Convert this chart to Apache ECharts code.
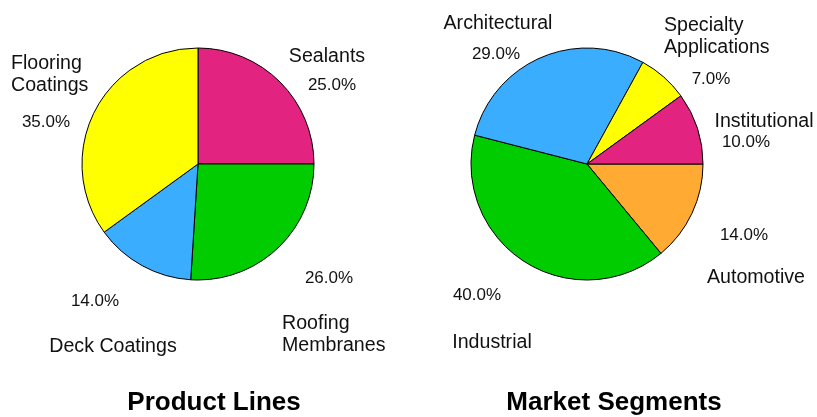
<!DOCTYPE html>
<html>
<head>
<meta charset="utf-8">
<script src="https://cdn.jsdelivr.net/npm/echarts@6/dist/echarts.min.js"></script>
<style>
  html, body { margin: 0; padding: 0; background: #fff; }
  #chart { width: 817px; height: 417px; }
</style>
</head>
<body>
<div id="chart"></div>
<script>
// Product lines (clockwise from 12 o'clock)
const productNames = ['Sealants', 'Roofing\nMembranes', 'Deck Coatings', 'Flooring\nCoatings'];
const productValues = [25, 26, 14, 35];
const productColors = ['#E2237F', '#00CC00', '#3AADFF', '#FFFF00'];

// Market segments (clockwise from 3 o'clock)
const marketNames = ['Automotive', 'Industrial', 'Architectural', 'Specialty\nApplications', 'Institutional'];
const marketValues = [14, 40, 29, 7, 10];
const marketColors = ['#FFAA33', '#00CC00', '#3AADFF', '#FFFF00', '#E2237F'];

const titles = ['Product Lines', 'Market Segments'];

// Label placement: [x, y, align]
const labelPlacement = {
  productPct:  [[332, 85, 'center'], [329, 278, 'center'], [95, 301, 'center'], [46, 122, 'center']],
  productName: [[327, 57, 'center'], [282, 335, 'left'], [113, 347, 'center'], [11, 75, 'left']],
  marketPct:   [[744, 235, 'center'], [477, 295, 'center'], [496, 54, 'center'], [711, 79, 'center'], [746, 142, 'center']],
  marketName:  [[756, 278, 'center'], [492, 343, 'center'], [498, 24, 'center'], [664, 37, 'left'], [764, 122, 'center']]
};

const FONT = '"Liberation Sans", Arial, Helvetica, sans-serif';

function toData(names, values, colors, fill) {
  return names.map((n, i) => ({
    name: n,
    value: values[i],
    itemStyle: { color: fill ? colors[i] : 'rgba(0,0,0,0)' }
  }));
}

function pieSeries(id, center, startAngle, names, values, colors, kind, placement) {
  const isPct = kind === 'pct';
  return {
    type: 'pie',
    id: id,
    center: center,
    radius: 116,
    startAngle: startAngle,
    clockwise: true,
    silent: !isPct,
    animation: false,
    z: isPct ? 2 : 3,
    itemStyle: {
      borderColor: isPct ? '#000' : 'rgba(0,0,0,0)',
      borderWidth: isPct ? 1 : 0
    },
    emphasis: { disabled: true },
    label: {
      show: true,
      position: 'outside',
      alignTo: 'none',
      overflow: 'none',
      color: '#111',
      fontFamily: FONT,
      fontSize: isPct ? 17 : 19.6,
      lineHeight: 22,
      formatter: isPct ? (p => p.percent.toFixed(1) + '%') : (p => p.name)
    },
    labelLine: { show: false },
    labelLayout: function (p) {
      const pos = placement[p.dataIndex];
      return { x: pos[0], y: pos[1], align: pos[2], verticalAlign: 'middle', hideOverlap: false, moveOverlap: null };
    },
    data: toData(names, values, colors, isPct)
  };
}

const chart = echarts.init(document.getElementById('chart'), null, { renderer: 'canvas' });
chart.setOption({
  backgroundColor: '#fff',
  animation: false,
  graphic: [
    { type: 'text', x: 214, y: 403, style: { text: titles[0], textAlign: 'center', textVerticalAlign: 'middle',
      font: 'bold 26px ' + FONT, fill: '#000' } },
    { type: 'text', x: 614, y: 403, style: { text: titles[1], textAlign: 'center', textVerticalAlign: 'middle',
      font: 'bold 26px ' + FONT, fill: '#000' } }
  ],
  series: [
    pieSeries('productSlices', [198, 164], 90, productNames, productValues, productColors, 'pct', labelPlacement.productPct),
    pieSeries('productNames', [198, 164], 90, productNames, productValues, productColors, 'name', labelPlacement.productName),
    pieSeries('marketSlices', [587, 164], 0, marketNames, marketValues, marketColors, 'pct', labelPlacement.marketPct),
    pieSeries('marketNames', [587, 164], 0, marketNames, marketValues, marketColors, 'name', labelPlacement.marketName)
  ]
});
</script>
</body>
</html>
